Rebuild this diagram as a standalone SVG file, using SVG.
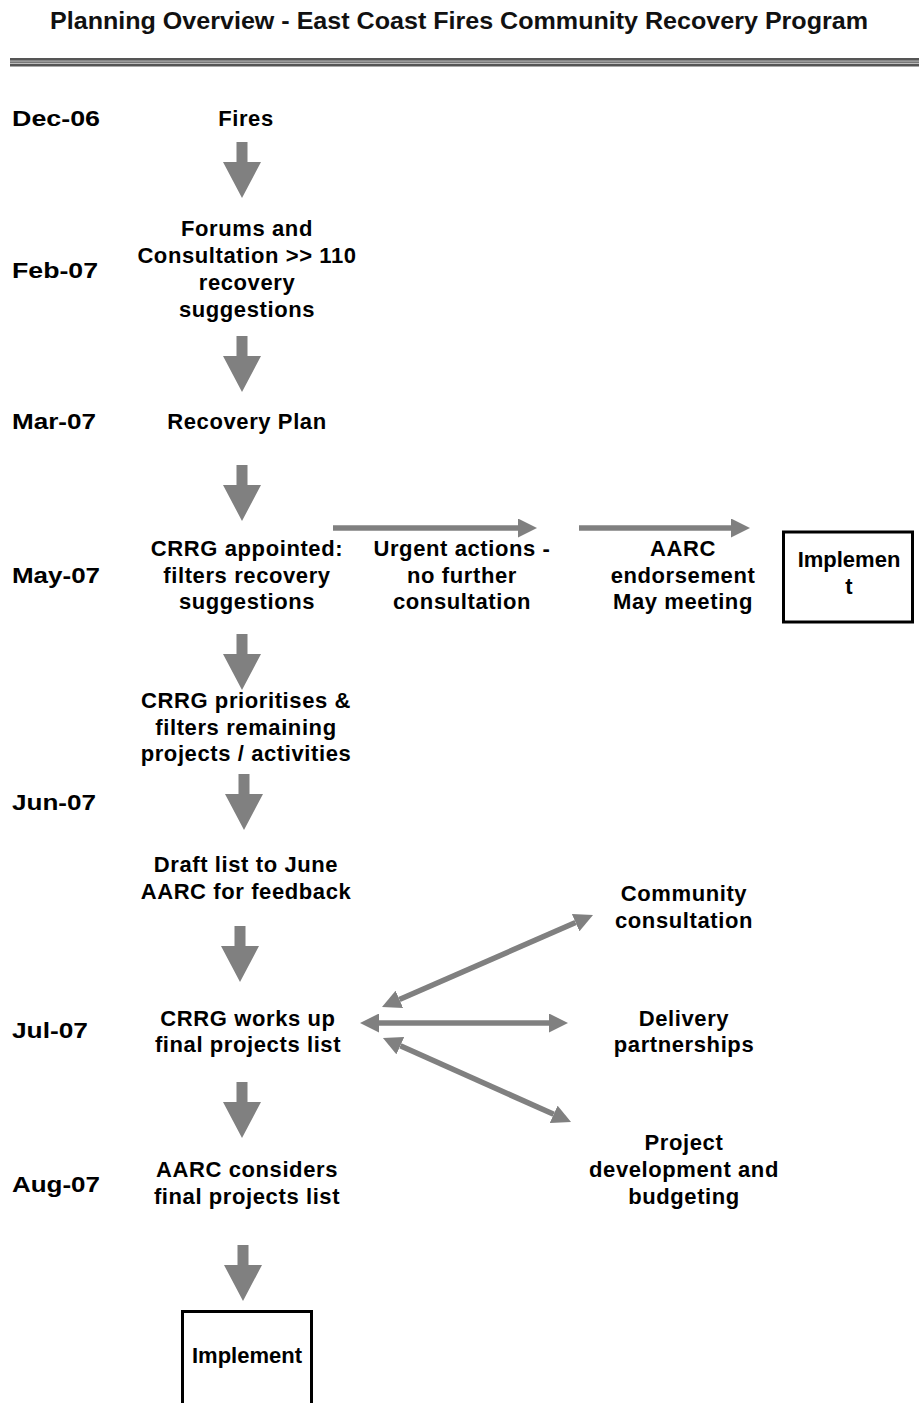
<svg xmlns="http://www.w3.org/2000/svg" width="919" height="1403" viewBox="0 0 919 1403">
<style>
.t{font-family:"Liberation Sans",Arial,sans-serif;font-weight:bold;font-size:22px;fill:#000;letter-spacing:0.6px}
.c{text-anchor:middle}
.d{font-family:"Liberation Sans",Arial,sans-serif;font-weight:bold;font-size:22px;fill:#000}
.title{font-family:"Liberation Sans Narrow","Liberation Sans",Arial,sans-serif;font-weight:bold;font-size:24px;fill:#111;text-anchor:middle}
.box{fill:#fff;stroke:#000;stroke-width:3}
.conn{stroke:#808080;stroke-width:5.5;fill:none}
.down{fill:#808080}
</style>
<defs>
<marker id="ah" markerUnits="userSpaceOnUse" markerWidth="19" markerHeight="19" viewBox="0 0 19 19" refX="0" refY="9.5" orient="auto-start-reverse">
<path d="M0,0 L19,9.5 L0,19 Z" fill="#808080"/>
</marker>
<path id="darrow" d="M-5.5,0 H5.5 V20 H19 L0,56 L-19,20 H-5.5 Z"/>
</defs>
<rect width="919" height="1403" fill="#fff"/>
<g id="header">
<text class="title" x="459" y="29" textLength="818" lengthAdjust="spacingAndGlyphs">Planning Overview - East Coast Fires Community Recovery Program</text>
<rect x="10" y="58" width="909" height="8" fill="#bdbdbd"/>
<rect x="10" y="58" width="909" height="2.5" fill="#555"/>
<rect x="10" y="61.5" width="909" height="1.5" fill="#777"/>
<rect x="10" y="64" width="909" height="2.5" fill="#555"/>
</g>
<g id="dates">
<text class="d" x="12" y="126" textLength="88" lengthAdjust="spacingAndGlyphs">Dec-06</text>
<text class="d" x="12" y="278" textLength="86" lengthAdjust="spacingAndGlyphs">Feb-07</text>
<text class="d" x="12" y="429" textLength="84" lengthAdjust="spacingAndGlyphs">Mar-07</text>
<text class="d" x="12" y="583" textLength="88" lengthAdjust="spacingAndGlyphs">May-07</text>
<text class="d" x="12" y="810" textLength="84" lengthAdjust="spacingAndGlyphs">Jun-07</text>
<text class="d" x="12" y="1038" textLength="76" lengthAdjust="spacingAndGlyphs">Jul-07</text>
<text class="d" x="12" y="1192" textLength="88" lengthAdjust="spacingAndGlyphs">Aug-07</text>
</g>
<g id="n-fires"><text class="t c" x="246" y="126">Fires</text></g>
<g id="n-forums">
<text class="t c" x="247" y="236">Forums and</text>
<text class="t c" x="247" y="263">Consultation &gt;&gt; 110</text>
<text class="t c" x="247" y="290">recovery</text>
<text class="t c" x="247" y="317">suggestions</text>
</g>
<g id="n-plan"><text class="t c" x="247" y="429">Recovery Plan</text></g>
<g id="n-crrg-appointed">
<text class="t c" x="247" y="556">CRRG appointed:</text>
<text class="t c" x="247" y="583">filters recovery</text>
<text class="t c" x="247" y="609">suggestions</text>
</g>
<g id="n-urgent">
<text class="t c" x="462" y="556">Urgent actions -</text>
<text class="t c" x="462" y="583">no further</text>
<text class="t c" x="462" y="609">consultation</text>
</g>
<g id="n-aarc-may">
<text class="t c" x="683" y="556">AARC</text>
<text class="t c" x="683" y="583">endorsement</text>
<text class="t c" x="683" y="609">May meeting</text>
</g>
<g id="n-implement-1">
<rect class="box" x="783.5" y="532" width="129" height="90"/>
<text class="d c" x="849" y="567">Implemen</text>
<text class="d c" x="849" y="594">t</text>
</g>
<g id="n-prioritises">
<text class="t c" x="246" y="708">CRRG prioritises &amp;</text>
<text class="t c" x="246" y="735">filters remaining</text>
<text class="t c" x="246" y="761">projects / activities</text>
</g>
<g id="n-draft">
<text class="t c" x="246" y="872">Draft list to June</text>
<text class="t c" x="246" y="899">AARC for feedback</text>
</g>
<g id="n-community">
<text class="t c" x="684" y="901">Community</text>
<text class="t c" x="684" y="928">consultation</text>
</g>
<g id="n-works-up">
<text class="t c" x="248" y="1026">CRRG works up</text>
<text class="t c" x="248" y="1052">final projects list</text>
</g>
<g id="n-delivery">
<text class="t c" x="684" y="1026">Delivery</text>
<text class="t c" x="684" y="1052">partnerships</text>
</g>
<g id="n-project-dev">
<text class="t c" x="684" y="1150">Project</text>
<text class="t c" x="684" y="1177">development and</text>
<text class="t c" x="684" y="1204">budgeting</text>
</g>
<g id="n-aarc-considers">
<text class="t c" x="247" y="1177">AARC considers</text>
<text class="t c" x="247" y="1204">final projects list</text>
</g>
<g id="n-implement-2">
<rect class="box" x="182.5" y="1311.5" width="129" height="100"/>
<text class="d c" x="247" y="1363">Implement</text>
</g>
<g id="connectors">
<use href="#darrow" class="down" x="242" y="142"/>
<use href="#darrow" class="down" x="242" y="336"/>
<use href="#darrow" class="down" x="242" y="465"/>
<use href="#darrow" class="down" x="242" y="634"/>
<use href="#darrow" class="down" x="244" y="774"/>
<use href="#darrow" class="down" x="240" y="926"/>
<use href="#darrow" class="down" x="242" y="1082"/>
<use href="#darrow" class="down" x="243" y="1245"/>
<line class="conn" x1="333" y1="528" x2="518" y2="528" marker-end="url(#ah)"/>
<line class="conn" x1="579" y1="528" x2="731" y2="528" marker-end="url(#ah)"/>
<line class="conn" x1="399.4" y1="999.4" x2="575.6" y2="922.6" marker-start="url(#ah)" marker-end="url(#ah)"/>
<line class="conn" x1="379" y1="1023" x2="549" y2="1023" marker-start="url(#ah)" marker-end="url(#ah)"/>
<line class="conn" x1="400.3" y1="1045.7" x2="553.7" y2="1114.3" marker-start="url(#ah)" marker-end="url(#ah)"/>
</g>
</svg>
